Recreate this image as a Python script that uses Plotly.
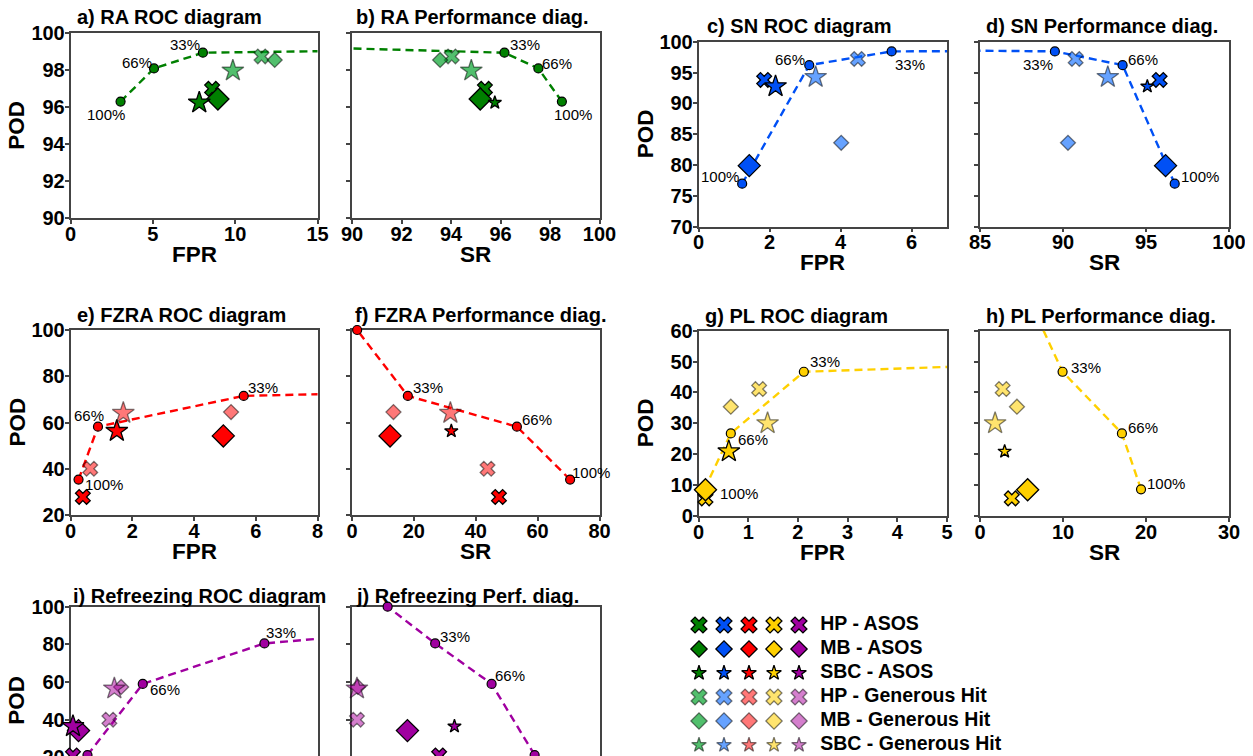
import plotly.graph_objects as go

# ---------------- data ----------------
thr_labels = ["100%", "66%", "33%", ""]  # last point = 0% threshold (off-axis for most)

# threshold curves: FPR, SR, POD  (order: 100%, 66%, 33%, 0%)
RA_thr_fpr = [3.04, 5.07, 8.04, 100]
RA_thr_sr = [98.48, 97.53, 96.16, 68.0]
RA_thr_pod = [96.31, 98.10, 98.95, 100]

SN_thr_fpr = [1.23, 3.12, 5.44, 100]
SN_thr_sr = [96.73, 93.59, 89.51, 25.0]
SN_thr_pod = [76.97, 96.20, 98.43, 100]

FZRA_thr_fpr = [0.26, 0.89, 5.61, 100]
FZRA_thr_sr = [70.5, 53.3, 18.05, 1.66]
FZRA_thr_pod = [35.3, 58.2, 71.5, 100]

PL_thr_fpr = [0.12, 0.65, 2.12, 100]
PL_thr_sr = [19.4, 17.1, 9.95, 0.75]
PL_thr_pod = [8.65, 26.75, 46.7, 100]

RF_thr_fpr = [2.75, 11.7, 31.4, 100]
RF_thr_sr = [36.9, 28.2, 16.8, 7.2]
RF_thr_pod = [21.2, 59.0, 80.5, 100]

# methods (order: HP-ASOS, MB-ASOS, SBC-ASOS, HP-GH, MB-GH, SBC-GH)
methods = ["HP - ASOS", "MB - ASOS", "SBC - ASOS",
           "HP - Generous Hit", "MB - Generous Hit", "SBC - Generous Hit"]

RA_fpr = [8.60, 8.95, 7.82, 11.60, 12.40, 9.86]
RA_sr = [95.37, 95.18, 95.77, 94.03, 93.56, 94.82]
RA_pod = [97.00, 96.45, 96.25, 98.75, 98.56, 97.98]

SN_fpr = [1.85, 1.43, 2.17, 4.49, 4.02, 3.30]
SN_sr = [95.82, 96.18, 95.08, 90.76, 90.30, 92.70]
SN_pod = [93.8, 79.9, 92.75, 97.2, 83.6, 94.25]

FZRA_fpr = [0.40, 4.95, 1.50, 0.64, 5.20, 1.71]
FZRA_sr = [47.5, 12.3, 32.1, 43.8, 13.4, 31.8]
FZRA_pod = [27.8, 54.2, 56.3, 40.0, 64.5, 64.1]

PL_fpr = [0.14, 0.14, 0.61, 1.22, 0.65, 1.39]
PL_sr = [3.83, 5.74, 2.97, 2.73, 4.45, 1.82]
PL_pod = [5.7, 8.5, 20.9, 41.1, 35.4, 30.0]

RF_fpr = [0.40, 1.30, 0.40, 6.30, 8.20, 7.10]
RF_sr = [17.6, 11.2, 20.7, 1.0, 1.2, 1.0]
RF_pod = [21.0, 34.2, 36.5, 40.0, 57.4, 56.5]

variables = ["RA", "SN", "FZRA", "PL", "Refreezing"]
colors = ["#008000", "#0050F5", "#FF0000", "#FFD000", "#A000A0"]
colors_gh = ["rgba(0,160,40,0.68)", "rgba(0,100,255,0.6)", "rgba(255,0,0,0.53)",
             "rgba(255,208,0,0.57)", "rgba(170,0,155,0.5)"]
letters = [("a", "b"), ("c", "d"), ("e", "f"), ("g", "h"), ("i", "j")]
perf_title = ["Performance diag.", "Performance diag.", "Performance diag.",
              "Performance diag.", "Perf. diag."]

roc_range = [[0, 15], [0, 7], [0, 8], [0, 5], [0, 40]]
roc_dtick = [5, 2, 2, 1, 10]
sr_range = [[90, 100], [85, 100], [0, 80], [0, 30], [0, 50]]
sr_dtick = [2, 5, 20, 10, 10]
pod_range = [[90, 100], [70, 100], [20, 100], [0, 60], [0, 100]]
pod_dtick = [2, 5, 20, 10, 20]

thr = [
    (RA_thr_fpr, RA_thr_sr, RA_thr_pod),
    (SN_thr_fpr, SN_thr_sr, SN_thr_pod),
    (FZRA_thr_fpr, FZRA_thr_sr, FZRA_thr_pod),
    (PL_thr_fpr, PL_thr_sr, PL_thr_pod),
    (RF_thr_fpr, RF_thr_sr, RF_thr_pod),
]
pts = [
    (RA_fpr, RA_sr, RA_pod),
    (SN_fpr, SN_sr, SN_pod),
    (FZRA_fpr, FZRA_sr, FZRA_pod),
    (PL_fpr, PL_sr, PL_pod),
    (RF_fpr, RF_sr, RF_pod),
]

# ---------------- styling / layout ----------------
W, H = 1245, 840
OFF = 8  # default body margin of the html page
FONT = "Liberation Sans, Arial, Helvetica, sans-serif"
AXC = "#444444"

def fx(p):
    return (p - OFF) / W

def fy(p):
    return 1 - (p - OFF) / H

col_L = [(70.5, 317.5), (352, 599.5)]
col_R = [(698.5, 947), (980, 1229)]
panel_cols = [col_L, col_R, col_L, col_R, col_L]
panel_rows = [(33.3, 218.3), (41.7, 226.7), (330, 515), (330.7, 516), (606.7, 795)]
title_y = [17.5, 25.8, 315, 315.5, 595.5]
title_x = [(74.5, 354), (705, 983.5), (74.5, 352.7), (703, 983.5), (70.5, 354)]
pod_x = [17, 645, 17, 645, 17]

# pixel offsets (dx, dy; dy down) of the threshold labels from their circles
lab_off_roc = [
    [(-15, 13), (-17, -6), (-18, -8)],
    [(-22, -7), (-19, -6), (18, 13)],
    [(25.5, 5), (-9, -11), (19.5, -8)],
    [(34.5, 4.4), (22.6, 6.5), (21.5, -10)],
    [(22, 6), (22, 6), (17, -11)],
]
lab_off_perf = [
    [(11, 13), (19, -5), (21, -8)],
    [(25, -7), (20, -6), (-17, 13)],
    [(20.5, -7), (19.6, -7), (20, -8)],
    [(25.3, -5.6), (20.8, -6), (23.6, -4.5)],
    [(20, 12), (18, -8.5), (19.4, -7)],
]

symbols = ["x", "diamond", "star", "x", "diamond", "star"]
size_roc = [13, 17, 16.5, 13, 11.5, 16.5]
size_perf = [13, 17, 10, 13, 11.5, 16.5]
is_gh = [False, False, False, True, True, True]
EDGE_GH = "rgba(0,0,0,0.5)"

fig = go.Figure()
layout = dict(
    width=W, height=H, margin=dict(l=0, r=0, t=0, b=0, pad=0, autoexpand=False),
    paper_bgcolor="white", plot_bgcolor="white", showlegend=False,
    font=dict(family=FONT, color="black"),
)
annotations = []

axis_common = dict(
    showline=True, linecolor=AXC, linewidth=1.5, mirror=True,
    ticks="outside", ticklen=4, tickwidth=1.5, tickcolor=AXC,
    showgrid=False, zeroline=False, layer="below traces", automargin=False,
    ticklabeloverflow="allow",
    tickfont=dict(family=FONT, size=20, color="black", weight="bold"),
)
LABFONT = dict(family=FONT, size=22.5, color="black", weight="bold")

ax_i = 0
for k, var in enumerate(variables):
    (rx0, rx1), (px0, px1) = panel_cols[k]
    y0, y1 = panel_rows[k]
    for j, kind in enumerate(["roc", "perf"]):
        ax_i += 1
        xname = "xaxis" if ax_i == 1 else f"xaxis{ax_i}"
        yname = "yaxis" if ax_i == 1 else f"yaxis{ax_i}"
        xref = "x" if ax_i == 1 else f"x{ax_i}"
        yref = "y" if ax_i == 1 else f"y{ax_i}"
        xa0, xa1 = (rx0, rx1) if j == 0 else (px0, px1)
        xr = roc_range[k] if j == 0 else sr_range[k]
        xd = roc_dtick[k] if j == 0 else sr_dtick[k]
        layout[xname] = dict(axis_common, domain=[fx(xa0), fx(xa1)], range=xr,
                             dtick=xd, tick0=0, anchor=yref, ticklabelstandoff=-7)
        layout[yname] = dict(axis_common, domain=[fy(y1), fy(y0)], range=pod_range[k],
                             dtick=pod_dtick[k], tick0=0, anchor=xref,
                             ticklabelstandoff=-4, showticklabels=(j == 0))

        tf, ts, tp = thr[k]
        xs = tf if j == 0 else ts
        fig.add_trace(go.Scatter(
            x=xs, y=tp, xaxis=xref, yaxis=yref,
            mode="lines+markers", cliponaxis=False,
            line=dict(color=colors[k], width=2.4, dash="8px,5px"),
            marker=dict(symbol="circle", size=9, color=colors[k],
                        line=dict(color="black", width=1.2)),
            hoverinfo="skip",
        ))
        offs = lab_off_roc[k] if j == 0 else lab_off_perf[k]
        for t in range(3):
            annotations.append(dict(
                text=thr_labels[t], x=xs[t], y=tp[t], xref=xref, yref=yref,
                xshift=offs[t][0], yshift=-offs[t][1], showarrow=False,
                xanchor="center", yanchor="middle",
                font=dict(family=FONT, size=15, color="black"),
            ))

        mf, ms, mp = pts[k]
        mx = mf if j == 0 else ms
        sizes = size_roc if j == 0 else size_perf
        for m in range(6):
            fig.add_trace(go.Scatter(
                x=[mx[m]], y=[mp[m]], xaxis=xref, yaxis=yref,
                mode="markers", cliponaxis=False, name=methods[m],
                marker=dict(symbol=symbols[m], size=sizes[m],
                            color=colors_gh[k] if is_gh[m] else colors[k],
                            line=dict(color=EDGE_GH if is_gh[m] else "black", width=1.3)),
                hoverinfo="skip",
            ))

        # subplot title
        tx = title_x[k][j]
        name = var + (" ROC diagram" if j == 0 else " " + perf_title[k])
        annotations.append(dict(
            text=f"{letters[k][j]}) {name}", x=fx(tx), y=fy(title_y[k]),
            xref="paper", yref="paper", xanchor="left", yanchor="middle",
            showarrow=False, font=dict(family=FONT, size=20, color="black", weight="bold"),
        ))
        # x axis label
        annotations.append(dict(
            text="FPR" if j == 0 else "SR", x=fx((xa0 + xa1) / 2), y=fy(y1 + 36),
            xref="paper", yref="paper", xanchor="center", yanchor="middle",
            showarrow=False, font=LABFONT,
        ))
    annotations.append(dict(
        text="POD", x=fx(pod_x[k]), y=fy((y0 + y1) / 2), textangle=-90,
        xref="paper", yref="paper", xanchor="center", yanchor="middle",
        showarrow=False, font=LABFONT,
    ))

# ---------------- custom legend ----------------
ax_i += 1
lx, ly = f"x{ax_i}", f"y{ax_i}"
layout[f"xaxis{ax_i}"] = dict(domain=[fx(674), fx(1074)], range=[-1, 15], visible=False,
                              anchor=ly, fixedrange=True)
layout[f"yaxis{ax_i}"] = dict(domain=[fy(781), fy(613)], range=[6.5, -0.5], visible=False,
                              anchor=lx, fixedrange=True)
leg_sizes = [14, 12.5, 11, 14, 12.5, 11]
for m in range(6):
    fig.add_trace(go.Scatter(
        x=list(range(5)), y=[m] * 5, xaxis=lx, yaxis=ly, mode="markers",
        cliponaxis=False,
        marker=dict(symbol=symbols[m], size=leg_sizes[m],
                    color=colors_gh if is_gh[m] else colors,
                    line=dict(color=EDGE_GH if is_gh[m] else "black", width=1.3)),
        hoverinfo="skip",
    ))
fig.add_trace(go.Scatter(
    x=[4.85] * 6, y=list(range(6)), xaxis=lx, yaxis=ly, mode="text",
    text=methods, textposition="middle right", cliponaxis=False,
    textfont=dict(family=FONT, size=19.5, color="black", weight="bold"),
    hoverinfo="skip",
))

layout["annotations"] = annotations
fig.update_layout(**layout)

fig.write_html(
    "out.html",
    post_script="document.documentElement.style.overflow='hidden';document.body.style.overflow='hidden';",
)
